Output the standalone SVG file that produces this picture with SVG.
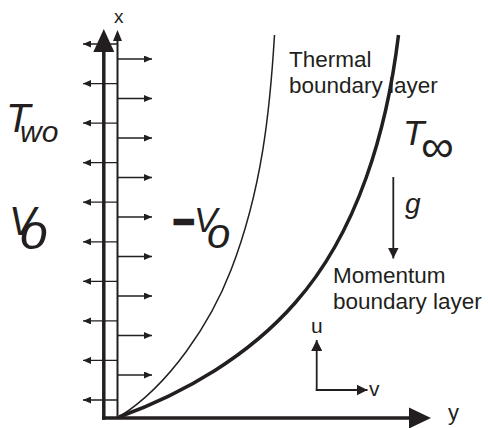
<svg xmlns="http://www.w3.org/2000/svg" width="488" height="428" viewBox="0 0 488 428">
<defs>
<style>
.t{font-family:"Liberation Sans",Arial,sans-serif;fill:#231f20}
.i{font-style:italic}
.ax{stroke:#231f20;fill:none;stroke-linecap:butt}
.sm{stroke:#231f20;stroke-width:1.3;fill:none}
.md{stroke:#231f20;stroke-width:1.8;fill:none}
.hd{fill:#231f20}
</style>
<marker id="ah" markerWidth="8" markerHeight="7" refX="8" refY="3.5" orient="auto" markerUnits="userSpaceOnUse"><path d="M0,0 L8,3.5 L0,7 z" fill="#231f20"/></marker>
<marker id="am" markerWidth="11" markerHeight="11" refX="11" refY="5.5" orient="auto" markerUnits="userSpaceOnUse"><path d="M0,0 L11,5.5 L0,11 z" fill="#231f20"/></marker>
</defs>
<rect width="488" height="428" fill="#fff"/>
<g id="axes">
<line class="ax" x1="103.8" y1="419.8" x2="103.8" y2="50" stroke-width="3.5"/>
<polygon class="hd" points="103.8,29 93.3,52 114.3,52"/>
<line class="ax" x1="102" y1="418" x2="411" y2="418" stroke-width="3.5"/>
<polygon class="hd" points="431,418 409,407.5 409,428.5"/>
<line class="ax" x1="117.5" y1="418" x2="117.5" y2="39" stroke-width="2"/>
<polygon class="hd" points="117.5,30 113,41 122,41"/>
</g>
<g id="curves">
<path class="ax" stroke-width="1.5" d="M119,417 C170,385 211,322 231,270 C262,190 270,110 274.5,35"/>
<path class="ax" stroke-width="3.5" d="M119,417 C185,393 249,355.5 295,303 C358,232 387,130 398.5,35"/>
</g>
<g id="connectors">
<g id="suction-arrows">
<line class="sm" x1="117.5" y1="44" x2="83" y2="44" marker-end="url(#ah)"/>
<line class="sm" x1="117.5" y1="83.6" x2="83" y2="83.6" marker-end="url(#ah)"/>
<line class="sm" x1="117.5" y1="123.1" x2="83" y2="123.1" marker-end="url(#ah)"/>
<line class="sm" x1="117.5" y1="162.7" x2="83" y2="162.7" marker-end="url(#ah)"/>
<line class="sm" x1="117.5" y1="202.2" x2="83" y2="202.2" marker-end="url(#ah)"/>
<line class="sm" x1="117.5" y1="241.8" x2="83" y2="241.8" marker-end="url(#ah)"/>
<line class="sm" x1="117.5" y1="281.3" x2="83" y2="281.3" marker-end="url(#ah)"/>
<line class="sm" x1="117.5" y1="320.9" x2="83" y2="320.9" marker-end="url(#ah)"/>
<line class="sm" x1="117.5" y1="360.4" x2="83" y2="360.4" marker-end="url(#ah)"/>
<line class="sm" x1="117.5" y1="400" x2="83" y2="400" marker-end="url(#ah)"/>
</g>
<g id="injection-arrows">
<line class="sm" x1="117.5" y1="59" x2="152" y2="59" marker-end="url(#ah)"/>
<line class="sm" x1="117.5" y1="98.5" x2="152" y2="98.5" marker-end="url(#ah)"/>
<line class="sm" x1="117.5" y1="138" x2="152" y2="138" marker-end="url(#ah)"/>
<line class="sm" x1="117.5" y1="177.5" x2="152" y2="177.5" marker-end="url(#ah)"/>
<line class="sm" x1="117.5" y1="217" x2="152" y2="217" marker-end="url(#ah)"/>
<line class="sm" x1="117.5" y1="256.5" x2="152" y2="256.5" marker-end="url(#ah)"/>
<line class="sm" x1="117.5" y1="296" x2="152" y2="296" marker-end="url(#ah)"/>
<line class="sm" x1="117.5" y1="335.5" x2="152" y2="335.5" marker-end="url(#ah)"/>
<line class="sm" x1="117.5" y1="375" x2="152" y2="375" marker-end="url(#ah)"/>
</g>
<line id="g-arrow" class="md" x1="393.3" y1="177" x2="393.3" y2="258.5" marker-end="url(#am)"/>
<g id="uv-axes">
<line class="md" x1="316.7" y1="390.9" x2="316.7" y2="340" marker-end="url(#am)"/>
<line class="md" x1="315.8" y1="390" x2="367.5" y2="390" marker-end="url(#am)"/>
</g>
</g>
<g id="label-x"><text class="t" x="114" y="23" font-size="19">x</text></g>
<g id="label-y"><text class="t" x="448" y="420" font-size="22">y</text></g>
<g id="label-u"><text class="t" x="311" y="333" font-size="21">u</text></g>
<g id="label-v"><text class="t" x="369" y="396" font-size="21">v</text></g>
<g id="label-g"><text class="t i" x="405" y="213" font-size="28">g</text></g>
<g id="label-thermal"><text class="t" font-size="22.5"><tspan x="289" y="67">Thermal</tspan><tspan x="289" y="93">boundary layer</tspan></text></g>
<g id="label-momentum"><text class="t" font-size="22.5"><tspan x="333" y="283">Momentum</tspan><tspan x="333" y="309">boundary layer</tspan></text></g>
<g id="label-Two"><text class="t i" x="6" y="132" font-size="40">T<tspan x="20" y="142" font-size="30">wo</tspan></text></g>
<g id="label-Vo"><text class="t i" x="9" y="235" font-size="40">V<tspan x="20" y="249" font-size="50">o</tspan></text></g>
<g id="label-minusVo"><text class="t i" x="194" y="232" font-size="35"><tspan x="173" y="233.5" font-style="normal" font-weight="bold" font-size="36" stroke="#231f20" stroke-width="2.5">−</tspan><tspan x="194" y="232">V</tspan><tspan x="207" y="248" font-size="42">o</tspan></text></g>
<g id="label-Tinf"><text class="t i" x="403" y="145" font-size="35">T<tspan x="421" y="162" font-size="46" font-style="normal">∞</tspan></text></g>
</svg>
